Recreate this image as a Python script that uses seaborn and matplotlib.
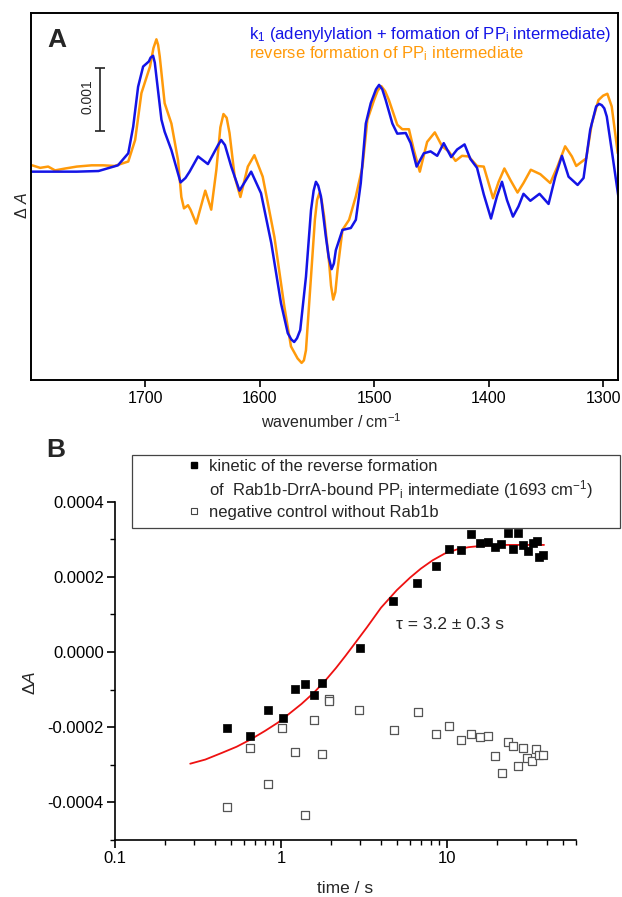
import numpy as np
import matplotlib
matplotlib.use("Agg")
import matplotlib.pyplot as plt
from matplotlib.lines import Line2D
from matplotlib.patches import Rectangle
from matplotlib.ticker import FixedLocator, FuncFormatter, LogLocator, MultipleLocator, FormatStrFormatter
import seaborn as sns

# --- panel A: difference spectra (values in units of 1e-3 absorbance) ---
wn_blue = [1799, 1760, 1741, 1724, 1715, 1710.7, 1706.4, 1702, 1697, 1695.5, 1693.3, 1691.8, 1690.4,
           1686, 1683.2, 1677.3, 1669.3, 1665, 1661.4, 1654, 1645.4, 1636.5, 1633.8, 1630.5, 1625,
           1617.8, 1607.6, 1599, 1590, 1581.5, 1575.6, 1572.5, 1570, 1567.5, 1564.7, 1559.7, 1555.3,
           1553, 1551, 1549, 1546.6, 1542.3, 1539.8, 1537.3, 1535.3, 1533.6, 1527.8, 1520.5, 1516.1,
           1511.8, 1507.4, 1503.1, 1498.5, 1495.8, 1493, 1490, 1484.2, 1479.9, 1472.5, 1468.2, 1463,
           1456.7, 1450.8, 1445, 1439.3, 1432.8, 1427.6, 1421.1, 1416, 1410.2, 1404.3, 1398, 1392.8,
           1388.4, 1384, 1378.8, 1374, 1369.6, 1363.6, 1355.6, 1347.7, 1341.8, 1336, 1330.2, 1322.3,
           1317.1, 1311.3, 1306.1, 1303.5, 1301.2, 1299, 1296.8, 1292.5, 1286.7]
dA_blue = [0.0, 0.0, 0.01, 0.1, 0.29, 0.71, 1.34, 1.66, 1.74, 1.8, 1.83, 1.72, 1.50,
           0.82, 0.63, 0.34, -0.17, -0.1, 0.0, 0.24, 0.12, 0.42, 0.5, 0.42, 0.08,
           -0.3, 0.0, -0.34, -1.13, -2.08, -2.55, -2.65, -2.69, -2.63, -2.5, -1.66, -0.61,
           -0.3, -0.16, -0.22, -0.39, -1.03, -1.35, -1.54, -1.45, -1.24, -0.92, -0.89, -0.76,
           -0.18, 0.76, 1.08, 1.3, 1.37, 1.3, 1.13, 0.76, 0.6, 0.61, 0.45, 0.08,
           0.29, 0.32, 0.25, 0.45, 0.23, 0.35, 0.43, 0.2, 0.06, -0.36, -0.74, -0.39,
           -0.16, -0.45, -0.71, -0.55, -0.35, -0.46, -0.35, -0.51, -0.08, 0.25, -0.08, -0.21,
           -0.1, 0.66, 1.03, 1.07, 1.05, 1.0, 0.87, 0.34, -0.39]

wn_orange = [1799, 1792, 1785, 1779, 1770, 1760, 1747, 1737, 1727, 1715, 1709, 1703.5, 1696, 1693,
             1690.4, 1688.9, 1687.5, 1683.2, 1677.3, 1671.5, 1668.6, 1666.3, 1662.8, 1660.6, 1655.6,
             1647.7, 1642.5, 1638, 1634.5, 1631.8, 1629, 1626.5, 1622, 1617, 1610.5, 1604.8, 1597.5,
             1587.3, 1578.6, 1572.8, 1567, 1563.5, 1561.5, 1559.7, 1555.3, 1551.9, 1550, 1548, 1546,
             1543.8, 1539.4, 1537.8, 1535.9, 1534, 1532.1, 1527.8, 1522, 1516.1, 1510.3, 1506, 1500.2,
             1497, 1493.8, 1490.5, 1487.2, 1479.9, 1475.5, 1469.7, 1465.4, 1460.2, 1453.8, 1447.1,
             1440.7, 1434.9, 1429, 1423.3, 1417.5, 1410.2, 1404.3, 1396.2, 1391.3, 1386.3, 1381.1,
             1374.8, 1369.6, 1363.2, 1354.9, 1346.2, 1339.9, 1333.2, 1327.3, 1323.5, 1314.8, 1309.9,
             1304.1, 1300, 1296.3, 1292.5, 1287.2]
dA_orange = [0.1, 0.06, 0.08, 0.02, 0.05, 0.08, 0.1, 0.1, 0.09, 0.16, 0.5, 1.24, 1.66, 1.95,
             2.09, 2.0, 1.82, 1.08, 0.76, 0.18, -0.4, -0.58, -0.53, -0.6, -0.82,
             -0.3, -0.6, 0.03, 0.7, 0.91, 0.85, 0.61, -0.08, -0.4, 0.08, 0.26, -0.08,
             -1.03, -2.13, -2.76, -2.95, -3.02, -2.98, -2.82, -1.66, -0.76, -0.45, -0.34, -0.45,
             -0.71, -1.45, -1.8, -2.02, -1.9, -1.55, -0.92, -0.76, -0.39, 0.08, 0.82, 1.13,
             1.28, 1.35, 1.27, 1.13, 0.74, 0.67, 0.67, 0.34, 0.0, 0.47, 0.62,
             0.4, 0.32, 0.17, 0.25, 0.24, 0.09, 0.08, -0.42, -0.16, 0.05, -0.13,
             -0.33, -0.18, 0.03, -0.04, -0.18, 0.08, 0.4, 0.24, 0.09, 0.21, 0.76,
             1.13, 1.2, 1.23, 1.03, 0.29]

# --- panel B: kinetics ---
t_kin = [0.47, 0.654, 0.838, 1.03, 1.21, 1.39, 1.58, 1.775, 2.98, 4.76, 6.63, 8.55, 10.3, 12.2,
         14.0, 15.9, 17.8, 19.6, 21.3, 23.2, 25.0, 26.9, 28.9, 30.9, 33.0, 34.9, 36.1, 37.9]
dA_kin = [-2.02e-4, -2.23e-4, -1.54e-4, -1.76e-4, -0.97e-4, -0.85e-4, -1.13e-4, -0.81e-4, 0.1e-4,
          1.37e-4, 1.83e-4, 2.30e-4, 2.73e-4, 2.72e-4, 3.13e-4, 2.91e-4, 2.92e-4, 2.79e-4,
          2.88e-4, 3.16e-4, 2.73e-4, 3.16e-4, 2.85e-4, 2.70e-4, 2.89e-4, 2.96e-4, 2.54e-4, 2.58e-4]

t_ctrl = [0.47, 0.654, 0.838, 1.02, 1.21, 1.39, 1.58, 1.76, 1.95, 1.95, 2.96, 4.79, 6.66, 8.55, 10.3,
          12.2, 14.0, 15.9, 17.8, 19.6, 21.5, 23.3, 25.2, 26.9, 28.9, 30.6, 32.6, 34.5, 36.1, 38.1]
dA_ctrl = [-4.13e-4, -2.56e-4, -3.51e-4, -2.03e-4, -2.67e-4, -4.34e-4, -1.81e-4, -2.70e-4,
           -1.25e-4, -1.30e-4, -1.55e-4, -2.08e-4, -1.60e-4, -2.19e-4, -1.96e-4, -2.34e-4,
           -2.17e-4, -2.26e-4, -2.22e-4, -2.76e-4, -3.21e-4, -2.39e-4, -2.49e-4, -3.02e-4,
           -2.56e-4, -2.83e-4, -2.91e-4, -2.58e-4, -2.73e-4, -2.73e-4]

# fit curve
t_fit = [0.284, 0.35, 0.442, 0.54, 0.654, 0.8, 0.957, 1.13, 1.33, 1.58, 1.85, 2.15, 2.45, 2.8,
         3.3, 4.01, 5.0, 6.0, 6.97, 8.2, 9.7, 11.5, 13.5, 16.5, 19.9, 26.0, 38.5]
dA_fit = [-2.97e-4, -2.86e-4, -2.68e-4, -2.52e-4, -2.33e-4, -2.10e-4, -1.88e-4, -1.63e-4,
          -1.38e-4, -1.08e-4, -0.76e-4, -0.42e-4, -0.10e-4, 0.24e-4, 0.66e-4, 1.18e-4,
          1.65e-4, 1.98e-4, 2.22e-4, 2.44e-4, 2.62e-4, 2.73e-4, 2.79e-4, 2.83e-4, 2.85e-4,
          2.85e-4, 2.85e-4]

sns.set_theme(style="white")
plt.rcParams["font.family"] = ["Liberation Sans", "DejaVu Sans"]
plt.rcParams["mathtext.fontset"] = "custom"
plt.rcParams["mathtext.rm"] = "Liberation Sans"
plt.rcParams["mathtext.it"] = "Liberation Sans:italic"
plt.rcParams["mathtext.bf"] = "Liberation Sans:bold"
plt.rcParams["lines.solid_joinstyle"] = "round"

W, H = 622, 897
fig = plt.figure(figsize=(W / 100, H / 100), dpi=100)

def fbox(l, t, r, b):
    return [l / W, 1 - b / H, (r - l) / W, (b - t) / H]

blue = "#1414e6"
orange = "#ff9a0a"

# ---------------- panel A ----------------
axA = fig.add_axes(fbox(31, 12.7, 618, 380))
sns.lineplot(x=wn_orange, y=np.array(dA_orange) * 1e-3, ax=axA, color=orange, lw=1.8, sort=False)
sns.lineplot(x=wn_blue, y=np.array(dA_blue) * 1e-3, ax=axA, color=blue, lw=1.8, sort=False)
axA.set_xlim(1800, 1287)
axA.set_ylim(-3.29e-3, 2.51e-3)
axA.set_yticks([])
axA.set_xticks([1700, 1600, 1500, 1400, 1300])
axA.tick_params(axis="x", direction="out", length=5, width=1.2, labelsize=11.5, pad=3,
                bottom=True, colors="black")
for s in axA.spines.values():
    s.set_color("black")
    s.set_linewidth(1.4)
axA.set_xlabel(r"wavenumber / cm$^{-1}$", fontsize=11.5, va="center")
axA.xaxis.set_label_coords(0.511, -0.114)
axA.set_ylabel(r"Δ $\mathit{A}$", fontsize=11.5, va="center")
axA.yaxis.set_label_coords(-0.0153, 0.476)

# scale bar 0.001
axA.errorbar([1739.3], [1.143e-3], yerr=[0.5e-3], color="#222222", lw=1.2, capsize=3.5, capthick=1.2)
axA.text(1750.3, 1.18e-3, "0.001", rotation=90, ha="center", va="center", fontsize=10)

fig.text(47 / W, 1 - 47 / H, "A", fontsize=19, fontweight="bold", va="baseline")
fig.text(249 / W, 1 - 39.3 / H,
         r"k$_\mathregular{1}$ (adenylylation + formation of PP$_\mathregular{i}$ intermediate)",
         color=blue, fontsize=12, va="baseline")
fig.text(249 / W, 1 - 58.3 / H, r"reverse formation of PP$_\mathregular{i}$ intermediate",
         color=orange, fontsize=12, va="baseline")

# ---------------- panel B ----------------
axB = fig.add_axes(fbox(115, 501.7, 576, 840))
axB.set_xscale("log")
sns.lineplot(x=t_fit, y=dA_fit, ax=axB, color="#ee1111", lw=1.3, sort=False)
sns.scatterplot(x=t_ctrl, y=dA_ctrl, ax=axB, marker="s", s=34, facecolor="white",
                edgecolor="#555555", linewidth=0.9, zorder=3)
sns.scatterplot(x=t_kin, y=dA_kin, ax=axB, marker="s", s=34, color="black",
                edgecolor="black", linewidth=0.5, zorder=4)
axB.set_xlim(0.1, 60)
axB.set_ylim(-0.0005, 0.0004)
sns.despine(ax=axB)
for s in ["left", "bottom"]:
    axB.spines[s].set_color("black")
    axB.spines[s].set_linewidth(1.2)
axB.xaxis.set_major_locator(FixedLocator([0.1, 1, 10]))
axB.xaxis.set_major_formatter(FuncFormatter(lambda v, p: f"{v:g}"))
axB.xaxis.set_minor_locator(LogLocator(base=10, subs=np.arange(2, 10), numticks=20))
axB.yaxis.set_major_locator(MultipleLocator(0.0002))
axB.yaxis.set_minor_locator(MultipleLocator(0.0001))
axB.yaxis.set_major_formatter(FormatStrFormatter("%.4f"))
axB.tick_params(which="major", direction="out", length=6, width=1.2, labelsize=12, pad=2,
                left=True, bottom=True, colors="black")
axB.tick_params(which="minor", direction="out", length=3.5, width=1.0, left=True, bottom=True,
                colors="black")
axB.set_xlabel("time / s", fontsize=12.5, va="center")
axB.xaxis.set_label_coords(0.499, -0.142)
axB.set_ylabel(r"Δ$\mathit{A}$", fontsize=12.5, va="center")
axB.yaxis.set_label_coords(-0.184, 0.463)
axB.text(10.4, 7.4e-5, "τ = 3.2 ± 0.3 s", ha="center", va="center", fontsize=12.5)

fig.text(46 / W, 1 - 457 / H, "B", fontsize=19, fontweight="bold", va="baseline")

# legend box for panel B
fig.add_artist(Rectangle((131.5 / W, 1 - 528 / H), (620 - 131.5) / W, (528 - 455) / H,
                         transform=fig.transFigure, fill=False, lw=0.9, ec="#444444"))
handles = [
    Line2D([], [], marker="s", ls="none", color="black", markersize=4.5),
    Line2D([], [], ls="none"),
    Line2D([], [], marker="s", ls="none", mfc="white", mec="#444444", mew=0.8, markersize=4.5),
]
labels = [
    "kinetic of the reverse formation",
    r"of  Rab1b-DrrA-bound PP$_\mathregular{i}$ intermediate (1693 cm$^\mathregular{-1}$)",
    "negative control without Rab1b",
]
axB.legend(handles, labels, loc="upper left", bbox_to_anchor=(185.6 / W, 1 - 459 / H),
           bbox_transform=fig.transFigure, frameon=False, fontsize=12, borderpad=0,
           borderaxespad=0, handlelength=1.0, handletextpad=0.4, labelspacing=0.25)

fig.savefig("out.png", dpi=100)
